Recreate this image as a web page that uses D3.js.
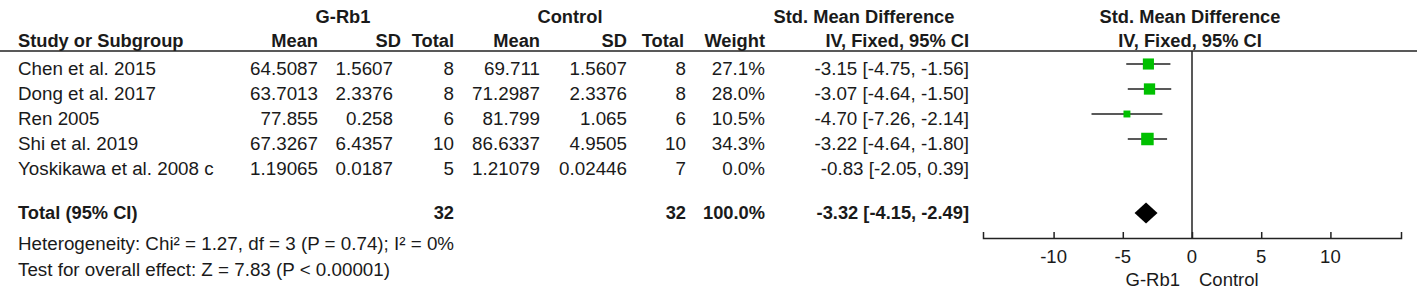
<!DOCTYPE html>
<html>
<head>
<meta charset="utf-8">
<script src="https://cdn.jsdelivr.net/npm/d3@7"></script>
<style>
    html, body { margin: 0; padding: 0; background: #fff; }
    svg text { font-family: "Liberation Sans", Arial, sans-serif; fill: #1a1a1a; }
</style>
</head>
<body>
<div id="chart"></div>
<script>
const studies = ['Chen et al. 2015', 'Dong et al. 2017', 'Ren 2005', 'Shi et al. 2019', 'Yoskikawa et al. 2008 c'];
const expMean = ['64.5087', '63.7013', '77.855', '67.3267', '1.19065'];
const expSD = ['1.5607', '2.3376', '0.258', '6.4357', '0.0187'];
const expTotal = [8, 8, 6, 10, 5];
const ctlMean = ['69.711', '71.2987', '81.799', '86.6337', '1.21079'];
const ctlSD = ['1.5607', '2.3376', '1.065', '4.9505', '0.02446'];
const ctlTotal = [8, 8, 6, 10, 7];
const weights = [27.1, 28.0, 10.5, 34.3, 0.0];
const smd = [-3.15, -3.07, -4.70, -3.22, -0.83];
const ciLow = [-4.75, -4.64, -7.26, -4.64, -2.05];
const ciHigh = [-1.56, -1.50, -2.14, -1.80, 0.39];

const totalSmd = -3.32;
const totalLow = -4.15;
const totalHigh = -2.49;
const totalExp = 32;
const totalCtl = 32;
const axisTicks = [-10, -5, 0, 5, 10];

const heterogeneity = 'Heterogeneity: Chi\u00b2 = 1.27, df = 3 (P = 0.74); I\u00b2 = 0%';
const overallEffect = 'Test for overall effect: Z = 7.83 (P < 0.00001)';

const W = 1417, H = 298;
const fs = 18.8;   // regular text
const fb = 18.3;   // bold text
const fa = 18.5;   // axis text

const svg = d3.select('#chart').append('svg')
    .attr('width', W)
    .attr('height', H);

svg.append('rect').attr('width', W).attr('height', H).attr('fill', '#fff');

// row positions
const yRow = d3.scalePoint().domain(studies).range([75, 175]);
const yTotal = 219;

// forest scale
const x = d3.scaleLinear().domain([-15.1, 15.1]).range([983, 1401]);
const axisY = 238;
const headLineY = 51;

const locale = d3.formatLocale({ decimal: '.', thousands: ',', grouping: [3], currency: ['', ''], minus: '-' });
const fmt = locale.format('.2f');
const ciText = (m, l, h) => `${fmt(m)} [${fmt(l)}, ${fmt(h)}]`;
const rows = studies.map((s, i) => ({
    study: s,
    expMean: expMean[i], expSD: expSD[i], expTotal: expTotal[i],
    ctlMean: ctlMean[i], ctlSD: ctlSD[i], ctlTotal: ctlTotal[i],
    weight: weights[i].toFixed(1) + '%',
    ci: ciText(smd[i], ciLow[i], ciHigh[i])
}));

// columns: key, header, right x
const columns = [
    { key: 'expMean', head: 'Mean', x: 318 },
    { key: 'expSD', head: 'SD', x: 393, hx: 401 },
    { key: 'expTotal', head: 'Total', x: 454 },
    { key: 'ctlMean', head: 'Mean', x: 540 },
    { key: 'ctlSD', head: 'SD', x: 627 },
    { key: 'ctlTotal', head: 'Total', x: 686, hx: 684 },
    { key: 'weight', head: 'Weight', x: 765 },
    { key: 'ci', head: 'IV, Fixed, 95% CI', x: 969 }
];

// group headers
const groupHeads = [
    { text: 'G-Rb1', x: 343 },
    { text: 'Control', x: 570 },
    { text: 'Std. Mean Difference', x: 864 },
    { text: 'Std. Mean Difference', x: 1190 }
];
svg.selectAll('.ghead')
    .data(groupHeads)
    .enter().append('text')
    .attr('class', 'ghead')
    .attr('x', d => d.x)
    .attr('y', 23)
    .attr('text-anchor', 'middle')
    .style('font-size', fb + 'px')
    .style('font-weight', 'bold')
    .text(d => d.text);

svg.append('text')
    .attr('x', 18).attr('y', 47)
    .style('font-size', fb + 'px')
    .style('font-weight', 'bold')
    .text('Study or Subgroup');

svg.selectAll('.chead')
    .data(columns)
    .enter().append('text')
    .attr('class', 'chead')
    .attr('x', d => d.hx || d.x)
    .attr('y', 47)
    .attr('text-anchor', 'end')
    .style('font-size', fb + 'px')
    .style('font-weight', 'bold')
    .text(d => d.head);

svg.append('text')
    .attr('x', 1190).attr('y', 47)
    .attr('text-anchor', 'middle')
    .style('font-size', fb + 'px')
    .style('font-weight', 'bold')
    .text('IV, Fixed, 95% CI');

svg.append('line')
    .attr('x1', 0).attr('x2', W)
    .attr('y1', headLineY).attr('y2', headLineY)
    .attr('stroke', '#222').attr('stroke-width', 1.5);

// study rows
svg.selectAll('.study')
    .data(rows)
    .enter().append('text')
    .attr('class', 'study')
    .attr('x', 18)
    .attr('y', d => yRow(d.study))
    .style('font-size', fs + 'px')
    .text(d => d.study);

columns.forEach(col => {
    svg.selectAll('.c-' + col.key)
        .data(rows)
        .enter().append('text')
        .attr('class', 'c-' + col.key)
        .attr('x', col.x)
        .attr('y', d => yRow(d.study))
        .attr('text-anchor', 'end')
        .style('font-size', fs + 'px')
        .text(d => d[col.key]);
});

// total row
const totalCells = [
    { text: String(totalExp), x: 454 },
    { text: String(totalCtl), x: 686 },
    { text: '100.0%', x: 765 },
    { text: ciText(totalSmd, totalLow, totalHigh), x: 969 }
];
svg.append('text')
    .attr('x', 18).attr('y', yTotal)
    .style('font-size', fb + 'px')
    .style('font-weight', 'bold')
    .text('Total (95% CI)');
svg.selectAll('.tot')
    .data(totalCells)
    .enter().append('text')
    .attr('class', 'tot')
    .attr('x', d => d.x)
    .attr('y', yTotal)
    .attr('text-anchor', 'end')
    .style('font-size', fb + 'px')
    .style('font-weight', 'bold')
    .text(d => d.text);

svg.append('text')
    .attr('x', 18).attr('y', 250)
    .style('font-size', fs + 'px')
    .text(heterogeneity);
svg.append('text')
    .attr('x', 18).attr('y', 276)
    .style('font-size', fs + 'px')
    .text(overallEffect);

// forest plot
svg.append('line')
    .attr('x1', x(0)).attr('x2', x(0))
    .attr('y1', headLineY).attr('y2', axisY)
    .attr('stroke', '#222').attr('stroke-width', 1.5);

const axis = svg.append('g')
    .attr('transform', `translate(0, ${axisY})`)
    .call(d3.axisTop(x).tickValues(axisTicks).tickSize(6).tickFormat(''));
axis.select('.domain').attr('stroke', '#222').attr('stroke-width', 1.5);
axis.selectAll('.tick line').attr('stroke', '#222').attr('stroke-width', 1.5);

svg.selectAll('.ticklab')
    .data(axisTicks)
    .enter().append('text')
    .attr('class', 'ticklab')
    .attr('x', d => x(d))
    .attr('y', 263)
    .attr('text-anchor', 'middle')
    .style('font-size', fa + 'px')
    .text(d => locale.format('d')(d));

svg.append('text')
    .attr('x', x(0) - 12).attr('y', 286)
    .attr('text-anchor', 'end')
    .style('font-size', fa + 'px')
    .text('G-Rb1');
svg.append('text')
    .attr('x', x(0) + 7).attr('y', 286)
    .style('font-size', fa + 'px')
    .text('Control');

const size = d3.scaleSqrt().domain([0, 34.3]).range([0, 12.5]);
const plotted = rows.map((d, i) => ({ study: d.study, m: smd[i], lo: ciLow[i], hi: ciHigh[i], w: weights[i] }))
    .filter(d => d.w > 0);

svg.selectAll('.ci')
    .data(plotted)
    .enter().append('line')
    .attr('class', 'ci')
    .attr('x1', d => x(d.lo)).attr('x2', d => x(d.hi))
    .attr('y1', d => yRow(d.study) - 11).attr('y2', d => yRow(d.study) - 11)
    .attr('stroke', '#222').attr('stroke-width', 1.5);

svg.selectAll('.sq')
    .data(plotted)
    .enter().append('rect')
    .attr('class', 'sq')
    .attr('x', d => x(d.m) - size(d.w) / 2)
    .attr('y', d => yRow(d.study) - 11 - size(d.w) / 2)
    .attr('width', d => size(d.w))
    .attr('height', d => size(d.w))
    .attr('fill', '#00c000');

const dy = 213;
const dh = 10.5;
svg.append('path')
    .attr('d', `M${x(totalLow)},${dy} L${x(totalSmd)},${dy - dh} L${x(totalHigh)},${dy} L${x(totalSmd)},${dy + dh} Z`)
    .attr('fill', '#000');
</script>
</body>
</html>
